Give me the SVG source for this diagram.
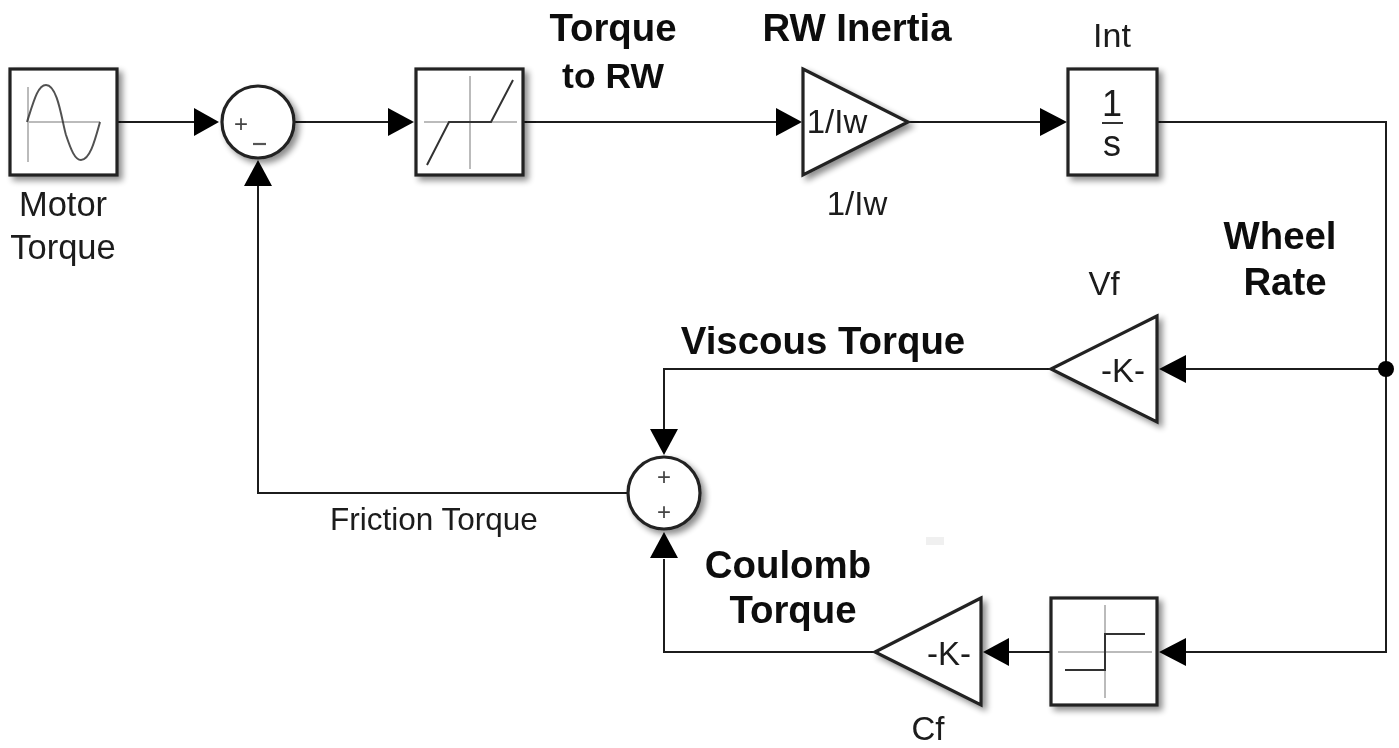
<svg xmlns="http://www.w3.org/2000/svg" width="1399" height="748" viewBox="0 0 1399 748">
<defs>
<filter id="sh" x="-20%" y="-20%" width="150%" height="150%"><feGaussianBlur in="SourceAlpha" stdDeviation="3"/><feOffset dx="4" dy="4"/><feComponentTransfer><feFuncA type="linear" slope="0.45"/></feComponentTransfer><feMerge><feMergeNode/><feMergeNode in="SourceGraphic"/></feMerge></filter>
<filter id="soft" x="-5%" y="-5%" width="110%" height="110%"><feGaussianBlur stdDeviation="0.6"/></filter>
</defs>
<style>
.b{fill:#fff;stroke:#222;stroke-width:3.2;stroke-linejoin:miter;filter:url(#sh)}
.w{fill:none;stroke:#1a1a1a;stroke-width:2}
.a{fill:#000;stroke:none}
.ax{fill:none;stroke:#bbb;stroke-width:2}
.g{fill:none;stroke:#333;stroke-width:2}
text{font-family:"Liberation Sans",Arial,sans-serif;fill:#1a1a1a;text-anchor:middle}
.l{font-size:34.5px}
.h{font-size:38.4px;font-weight:bold;fill:#111}
.m{font-size:31.5px}
.v{font-size:33px}
.s{font-size:24px;fill:#444}
</style>
<rect width="1399" height="748" fill="#fff"/>
<g filter="url(#soft)">
<g id="connectors">
<path class="w" d="M117 122H196"/><polygon class="a" points="219,122 194,108 194,136"/>
<path class="w" d="M294 122H390"/><polygon class="a" points="414,122 388,108 388,136"/>
<path class="w" d="M523 122H778"/><polygon class="a" points="802,122 776,108 776,136"/>
<path class="w" d="M908 122H1042"/><polygon class="a" points="1067,122 1040,108 1040,136"/>
<path class="w" d="M1157 122H1386V652H1186"/>
<polygon class="a" points="1159,369 1186,355 1186,383"/><path class="w" d="M1386 369H1186"/>
<polygon class="a" points="1159,652 1186,638 1186,666"/>
<circle class="a" cx="1386" cy="369" r="8"/>
<path class="w" d="M1051 652H1009"/><polygon class="a" points="983,652 1009,638 1009,666"/>
<path class="w" d="M875 652H664V559"/><polygon class="a" points="664,532 650,558 678,558"/>
<path class="w" d="M1051 369H664V430"/><polygon class="a" points="664,455 650,429 678,429"/>
<path class="w" d="M627 493H258V186"/><polygon class="a" points="258,160 244,186 272,186"/>
</g>
<g id="motor-torque">
<rect class="b" x="10" y="69" width="107" height="106"/>
<path class="ax" d="M28 87V162M27 122H100"/>
<path class="g" stroke-opacity="0.85" d="M27 122C34 100 38 85 46 85C58 85 62 122 66 135C71 150 75 160 81 160C90 160 95 140 100 122"/>
<text class="l"><tspan x="63" y="216">Motor</tspan><tspan x="63" y="259">Torque</tspan></text>
</g>
<g id="sum1">
<circle class="b" cx="258" cy="122" r="36"/>
<text class="s" x="241" y="132">+</text>
<path d="M253 144H266" stroke="#555" stroke-width="2.2"/>
</g>
<g id="saturation">
<rect class="b" x="416" y="69" width="107" height="106"/>
<path class="ax" d="M470 76V169M424 122H517"/>
<path class="g" d="M427 165L449 122H491L513 80"/>
</g>
<g id="rw-gain">
<polygon class="b" points="803,69 908,122 803,175"/>
<text class="v" x="837" y="133">1/Iw</text>
<text class="m" x="857" y="215" style="font-size:33px">1/Iw</text>
</g>
<g id="int">
<rect class="b" x="1068" y="69" width="89" height="106"/>
<path d="M1102 123H1123" stroke="#333" stroke-width="2"/>
<text x="1112" y="116" style="font-size:36px">1</text>
<text x="1112" y="156" style="font-size:36px">s</text>
<text x="1112" y="47" style="font-size:34px">Int</text>
</g>
<g id="vf-gain">
<polygon class="b" points="1157,316 1051,369 1157,422"/>
<text class="v" x="1123" y="382">-K-</text>
<text x="1104" y="295" style="font-size:33px">Vf</text>
</g>
<g id="sum2">
<circle class="b" cx="664" cy="493" r="36"/>
<text class="s" x="664" y="485">+</text>
<text class="s" x="664" y="520">+</text>
<text class="m" x="434" y="530">Friction Torque</text>
</g>
<g id="cf-gain">
<polygon class="b" points="981,598 875,652 981,705"/>
<text class="v" x="949" y="665">-K-</text>
<text x="928" y="740" style="font-size:33px">Cf</text>
</g>
<g id="sign">
<rect class="b" x="1051" y="598" width="106" height="107"/>
<path class="ax" d="M1105 605V698M1058 652H1152"/>
<path class="g" d="M1065 670H1105V634H1145"/>
</g>
<g id="labels">
<text class="h"><tspan x="613" y="41">Torque</tspan><tspan x="613" y="88" style="font-size:35.5px">to RW</tspan></text>
<text class="h" x="857" y="41">RW Inertia</text>
<text class="h"><tspan x="1280" y="249">Wheel</tspan><tspan x="1285" y="295">Rate</tspan></text>
<text class="h" x="823" y="354">Viscous Torque</text>
<text class="h"><tspan x="788" y="578">Coulomb</tspan><tspan x="793" y="623">Torque</tspan></text>
</g>
<rect x="926" y="537" width="18" height="8" fill="#f0f0f0"/>
</g>
</svg>
